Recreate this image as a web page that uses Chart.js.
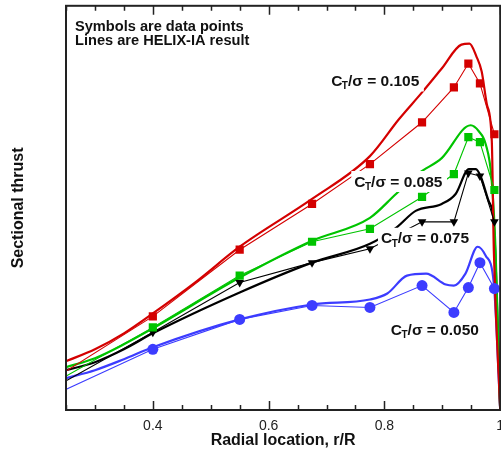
<!DOCTYPE html>
<html><head><meta charset="utf-8">
<script src="https://cdn.jsdelivr.net/npm/chart.js@4/dist/chart.umd.min.js"></script>
<style>html,body{margin:0;padding:0;background:#fff;overflow:hidden}#wrap{width:501px;height:452px;overflow:hidden}</style>
</head><body><div id="wrap"><canvas id="c" width="506" height="452"></canvas></div>
<script>
// ---- data (r/R stations and sectional thrust, arbitrary units) ----
const stations  = [0.225, 0.4, 0.55, 0.675, 0.775, 0.865, 0.92, 0.945, 0.965, 0.99];
const testCt105 = [30, 94, 161, 207, 247, 289, 324, 348, 328, 277];
const testCt085 = [26, 83, 135, 169, 182, 214, 237, 274, 269, 221];
const testCt075 = [21, 78, 128, 148, 162, 189, 189, 238, 235, 189];
const testCt050 = [14, 61, 91, 105, 103, 125, 98, 123, 148, 122];

const helixR105 = [0.25, 0.3, 0.35, 0.4, 0.475, 0.55, 0.675, 0.775, 0.825, 0.865, 0.899, 0.933, 0.947, 0.959, 0.968, 0.977, 0.9855, 0.989, 1.0];
const helixCt105 = [49, 61, 77, 97, 129, 164, 212, 255, 292, 319, 343, 367, 368, 355, 340, 307, 270, 160, 0];
const helixR085 = [0.25, 0.3, 0.35, 0.4, 0.55, 0.675, 0.775, 0.82, 0.86, 0.899, 0.949, 0.963, 0.975, 0.985, 0.992, 1.0];
const helixCt085 = [43, 52, 66, 82, 133, 170, 193, 217, 238, 253, 286, 280, 267, 233, 160, 0];
const helixR075 = [0.25, 0.3, 0.35, 0.4, 0.55, 0.675, 0.775, 0.82, 0.854, 0.899, 0.923, 0.946, 0.958, 0.966, 0.98, 0.989, 1.0];
const helixCt075 = [40, 48, 61, 77, 118, 148, 167, 183, 200, 207, 217, 242, 242, 235, 210, 187, 0];
const helixR050 = [0.25, 0.3, 0.35, 0.4, 0.55, 0.675, 0.775, 0.805, 0.839, 0.872, 0.906, 0.92, 0.94, 0.961, 0.975, 0.989, 1.0];
const helixCt050 = [32, 40, 51, 63, 91, 106, 111, 117, 135, 137, 126, 125, 137, 164, 155, 127, 0];

const xTickValues = [0.4, 0.6, 0.8, 1.0];
const xTickLabels = ['0.4', '0.6', '0.8', '1'];
const xMinorTicks = [0.25, 0.3, 0.35, 0.45, 0.5, 0.55, 0.65, 0.7, 0.75, 0.85, 0.9, 0.95];
const seriesLabels = ['0.105', '0.085', '0.075', '0.050'];
const noteLines = ['Symbols are data points', 'Lines are HELIX-IA result'];

// ---- styling ----
const FONT = '"Liberation Sans", Arial, Helvetica, sans-serif';
const RED = '#d40000', GREEN = '#00c400', BLACK = '#000000', BLUE = '#3c3cff';

const pts = (xs, ys) => xs.map((x, i) => ({x: x, y: ys[i]}));
function thick(xs, ys, color) {
  return {data: pts(xs, ys), borderColor: color, borderWidth: 2.2, pointRadius: 0,
          cubicInterpolationMode: 'monotone', fill: false, clip: 0};
}
function thin(ys, color, style, radius, rot) {
  return {data: pts(stations, ys), borderColor: color, borderWidth: 1.1, backgroundColor: color,
          pointBackgroundColor: color, pointBorderColor: color, pointBorderWidth: 0,
          pointStyle: style, pointRadius: radius, pointRotation: rot || 0, tension: 0, fill: false, clip: 0};
}

const labelPlugin = {
  id: 'labels',
  afterDatasetsDraw(chart) {
    const {ctx, chartArea, scales} = chart;
    const xs = scales.x, ys = scales.y;
    ctx.save();
    ctx.fillStyle = '#111';
    ctx.font = 'bold 14.6px ' + FONT;
    ctx.textBaseline = 'alphabetic';
    ctx.textAlign = 'left';
    noteLines.forEach((t, i) => ctx.fillText(t, chartArea.left + 9, chartArea.top + 25 + i * 14));
    // series labels (anchor: left edge, vertical centre, in data units)
    const anchors = [[0.708, 331], [0.748, 230], [0.794, 173], [0.811, 81]];
    anchors.forEach((a, i) => {
      const x0 = xs.getPixelForValue(a[0]);
      const yc = ys.getPixelForValue(a[1]);
      const base = yc + 5.5;
      const big = 'bold 15.5px ' + FONT, small = 'bold 10px ' + FONT;
      ctx.font = big; const wC = ctx.measureText('C').width;
      ctx.font = small; const wT = ctx.measureText('T').width;
      ctx.font = big; const rest = '/\u03C3 = ' + seriesLabels[i]; const wR = ctx.measureText(rest).width;
      const w = wC + wT + wR;
      ctx.fillStyle = '#fff';
      ctx.fillRect(x0 - 3, yc - 10, w + 7, 21);
      ctx.fillStyle = '#111';
      ctx.font = big; ctx.fillText('C', x0, base);
      ctx.font = small; ctx.fillText('T', x0 + wC - 0.5, base + 3.5);
      ctx.font = big; ctx.fillText(rest, x0 + wC + wT - 0.5, base);
    });
    ctx.restore();
  },
  afterDraw(chart) {
    const {ctx, chartArea, scales} = chart;
    const xs = scales.x;
    const {left, right, top, bottom} = chartArea;
    ctx.save();
    ctx.strokeStyle = '#222';
    ctx.lineWidth = 1.5;
    const tick = (v, len) => {
      const px = Math.round(xs.getPixelForValue(v)) + 0.5;
      ctx.beginPath();
      ctx.moveTo(px, bottom); ctx.lineTo(px, bottom - len);
      ctx.moveTo(px, top); ctx.lineTo(px, top + len);
      ctx.stroke();
    };
    xTickValues.forEach(v => tick(v, 9));
    xMinorTicks.forEach(v => tick(v, 5));
    ctx.lineWidth = 2;
    ctx.strokeRect(left, top, right - left, bottom - top);
    ctx.restore();
  }
};

new Chart(document.getElementById('c'), {
  type: 'line',
  data: {
    datasets: [
      thin(testCt105, RED, 'rect', 5.8),
      thin(testCt085, GREEN, 'rect', 5.8),
      thin(testCt075, BLACK, 'triangle', 5, 180),
      thin(testCt050, BLUE, 'circle', 5.5),
      thick(helixR105, helixCt105, RED),
      thick(helixR085, helixCt085, GREEN),
      thick(helixR075, helixCt075, BLACK),
      thick(helixR050, helixCt050, BLUE)
    ]
  },
  options: {
    responsive: false,
    animation: false,
    devicePixelRatio: 1,
    layout: {padding: {left: 0, right: 1, top: 4, bottom: 0}},
    plugins: {legend: {display: false}, tooltip: {enabled: false}},
    scales: {
      x: {
        type: 'linear', min: 0.25, max: 1.0, position: 'bottom',
        grid: {display: false, drawTicks: false},
        border: {display: false},
        ticks: {padding: 8, color: '#222', autoSkip: false, maxRotation: 0,
                font: {family: FONT, size: 14},
                callback: (v, i) => xTickLabels[i]},
        afterBuildTicks: s => { s.ticks = xTickValues.map(v => ({value: v})); },
        afterFit: s => { s.height = 42; s.paddingLeft = 0; s.paddingRight = 0; },
        title: {display: true, text: 'Radial location, r/R', color: '#111',
                font: {family: FONT, size: 16, weight: 'bold'}, padding: {top: 0, bottom: 2}}
      },
      y: {
        min: 0, max: 406,
        grid: {display: false, drawTicks: false},
        border: {display: false},
        ticks: {display: false},
        afterFit: s => { s.width = 66; },
        title: {display: true, text: 'Sectional thrust', color: '#111',
                font: {family: FONT, size: 16, weight: 'bold'}, padding: {top: 9, bottom: 0}}
      }
    }
  },
  plugins: [labelPlugin]
});
</script></body></html>
